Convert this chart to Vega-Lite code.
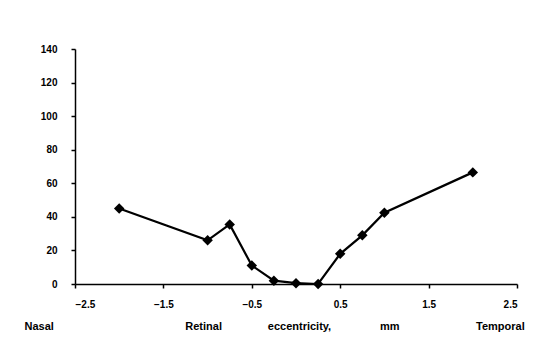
{
  "$schema": "https://vega.github.io/schema/vega-lite/v6.json",
  "width": 442,
  "height": 235,
  "autosize": "none",
  "padding": {"left": 75, "top": 49, "right": 32, "bottom": 56},
  "background": "white",
  "config": {
    "view": {"stroke": null},
    "font": "Liberation Sans",
    "axis": {
      "grid": false,
      "domainColor": "black",
      "domainWidth": 1.5,
      "tickColor": "black",
      "tickWidth": 1.5,
      "tickSize": 4,
      "labelColor": "black",
      "labelFont": "Liberation Sans",
      "labelFontWeight": "bold",
      "labelFontSize": 10,
      "titleColor": "black",
      "titleFont": "Liberation Sans",
      "titleFontWeight": "bold",
      "titleFontSize": 11
    }
  },
  "data": {
    "values": [
      {"ecc": -2.0, "val": 45},
      {"ecc": -1.0, "val": 26},
      {"ecc": -0.75, "val": 35.5},
      {"ecc": -0.5, "val": 11},
      {"ecc": -0.25, "val": 2},
      {"ecc": 0.0, "val": 0.5},
      {"ecc": 0.25, "val": 0},
      {"ecc": 0.5, "val": 18},
      {"ecc": 0.75, "val": 29},
      {"ecc": 1.0, "val": 42.5},
      {"ecc": 2.0, "val": 66.5}
    ]
  },
  "encoding": {
    "x": {
      "field": "ecc",
      "type": "quantitative",
      "scale": {"domain": [-2.5, 2.5], "nice": false, "zero": false},
      "axis": {
        "values": [-2.5, -1.5, -0.5, 0.5, 1.5, 2.5],
        "format": ".1f",
        "labelPadding": 11,
        "title": "Nasal\u00a0\u00a0\u00a0\u00a0\u00a0\u00a0\u00a0\u00a0\u00a0\u00a0\u00a0\u00a0\u00a0\u00a0\u00a0\u00a0\u00a0\u00a0\u00a0\u00a0\u00a0\u00a0\u00a0\u00a0\u00a0\u00a0\u00a0\u00a0\u00a0\u00a0\u00a0\u00a0\u00a0\u00a0\u00a0\u00a0\u00a0\u00a0\u00a0\u00a0\u00a0\u00a0\u00a0Retinal\u00a0\u00a0\u00a0\u00a0\u00a0\u00a0\u00a0\u00a0\u00a0\u00a0\u00a0\u00a0\u00a0\u00a0\u00a0eccentricity,\u00a0\u00a0\u00a0\u00a0\u00a0\u00a0\u00a0\u00a0\u00a0\u00a0\u00a0\u00a0\u00a0\u00a0\u00a0\u00a0mm\u00a0\u00a0\u00a0\u00a0\u00a0\u00a0\u00a0\u00a0\u00a0\u00a0\u00a0\u00a0\u00a0\u00a0\u00a0\u00a0\u00a0\u00a0\u00a0\u00a0\u00a0\u00a0\u00a0\u00a0\u00a0Temporal",
        "titleAlign": "left",
        "titleAnchor": "start",
        "titleX": -51,
        "titleY": 45,
        "titleBaseline": "alphabetic"
      }
    },
    "y": {
      "field": "val",
      "type": "quantitative",
      "scale": {"domain": [0, 140], "nice": false},
      "axis": {
        "values": [0, 20, 40, 60, 80, 100, 120, 140],
        "labelPadding": 14,
        "title": null
      }
    }
  },
  "layer": [
    {"mark": {"type": "line", "color": "black", "strokeWidth": 2.2}},
    {"mark": {"type": "point", "shape": "diamond", "filled": true, "color": "black", "opacity": 1, "size": 110}}
  ]
}
